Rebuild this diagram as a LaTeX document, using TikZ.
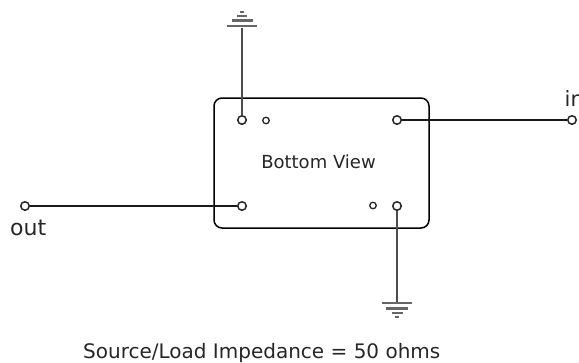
\documentclass[tikz,border=0pt]{standalone}
\usepackage{fontspec}
\setmainfont{DejaVu Sans}
\usepackage{tikz}

\begin{document}
\begin{tikzpicture}[
        x=1pt,y=-1pt,
        bigpad/.style={draw=black!85,circle,fill=white,line width=1.5pt,inner sep=0pt,minimum size=8.5pt},
        smallpad/.style={draw=black!85,circle,fill=white,line width=1.3pt,inner sep=0pt,minimum size=6.5pt},
        gndbar/.style={fill=black!60,inner sep=0pt,minimum height=2.6pt},
        wire/.style={draw=black!90,line width=1.6pt},
        gndwire/.style={draw=black!70,line width=2pt},
        lbl/.style={inner sep=0pt,text=black!85}
      ]
      \useasboundingbox (0,0) rectangle (579,362);
      % Package outline
      \node (body) [draw=black,line width=1.5pt,rounded corners=8pt,minimum width=215pt,minimum height=130pt,inner sep=0pt] at (321.5,163) {};
      \node (view) [lbl,font=\fontsize{18}{20}\selectfont] at (318.5,162) {Bottom View};
      % Pads
      \node (padtl) [bigpad] at (242,120) {};
      \node (padtm) [smallpad] at (266,120.5) {};
      \node (padtr) [bigpad] at (397,120) {};
      \node (padbl) [bigpad] at (242,206) {};
      \node (padbm) [smallpad] at (373,205.5) {};
      \node (padbr) [bigpad] at (397,206) {};
      \node (in) [bigpad] at (572,120) {};
      \node (out) [bigpad] at (25,206) {};
      % Ground above
      \node (gta) [gndbar,minimum width=30pt] at (242,26) {};
      \node (gtb) [gndbar,minimum width=21pt] at (242,20.5) {};
      \node (gtc) [gndbar,minimum width=10pt] at (242,16) {};
      \node (gtd) [gndbar,minimum width=4pt] at (242,12) {};
      % Ground below
      \node (gba) [gndbar,minimum width=30pt] at (397,303) {};
      \node (gbb) [gndbar,minimum width=22pt] at (397,308.5) {};
      \node (gbc) [gndbar,minimum width=11pt] at (397,313) {};
      \node (gbd) [gndbar,minimum width=4pt] at (397,317) {};
      % Wires
      \draw[gndwire] (padtl) -- (gta);
      \draw[gndwire] (padbr) -- (gba);
      \draw[wire] (padtr) -- (in);
      \draw[wire] (out) -- (padbl);
      % Labels
      \node (inlbl) [lbl,font=\fontsize{21}{23}\selectfont,anchor=base west] at (564.5,106) {in};
      \node (outlbl) [lbl,font=\fontsize{22}{24}\selectfont,anchor=base west] at (10,235) {out};
      \node (imp) [lbl,font=\fontsize{20}{22}\selectfont,anchor=base west] at (83,358) {Source/Load Impedance = 50 ohms};
    \end{tikzpicture}
\end{document}
